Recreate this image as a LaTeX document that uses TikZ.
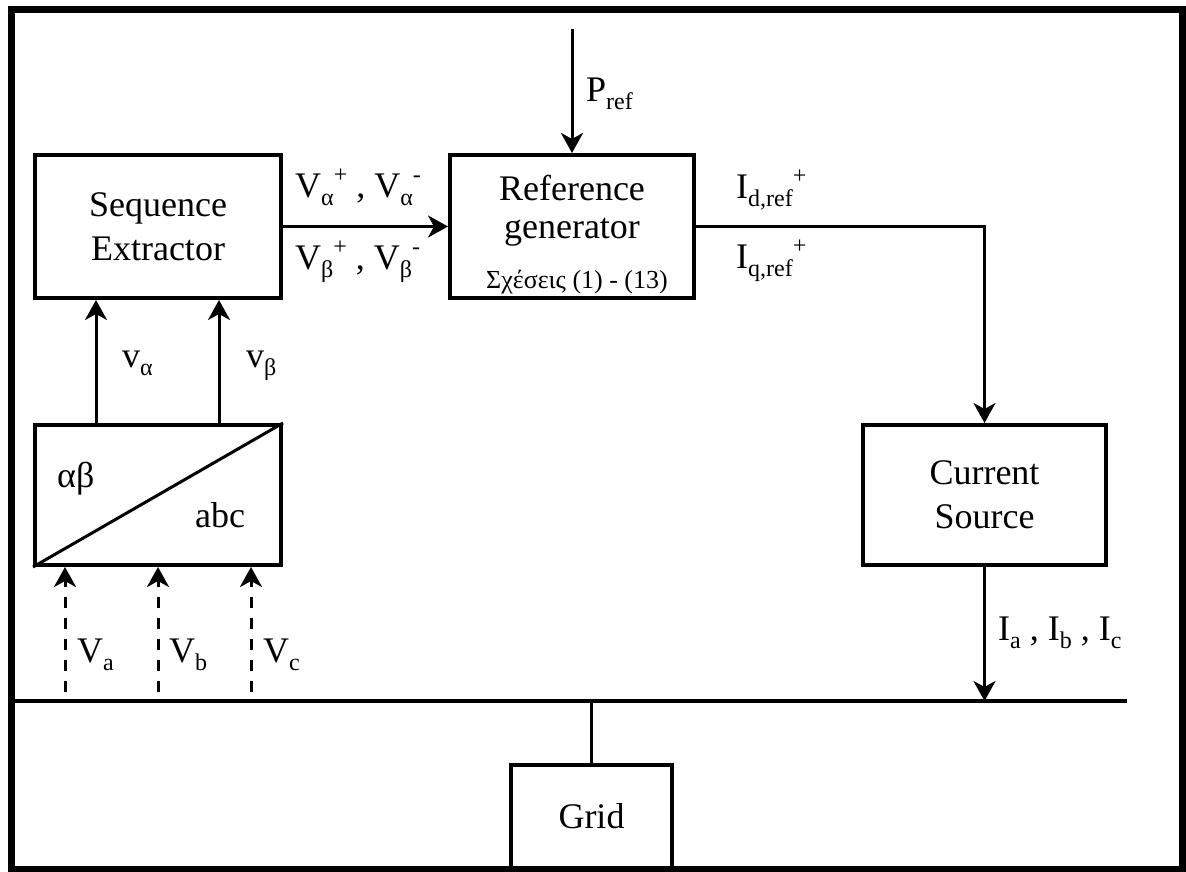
\documentclass[tikz,border=0pt]{standalone}
\usepackage{fontspec}
\setmainfont{Liberation Serif}
\usetikzlibrary{arrows.meta}
\newcommand\mysub[1]{\raisebox{-8pt}{\fontsize{24}{26}\selectfont #1}}
\newcommand\mysup[1]{\raisebox{15pt}{\fontsize{24}{26}\selectfont #1}}
\begin{document}
\begin{tikzpicture}[x=1pt,y=-1pt,
  box/.style={draw, line width=4pt, rectangle, inner sep=0pt, font=\fontsize{36}{44}\selectfont, align=center},
  lbl/.style={inner sep=0pt, font=\fontsize{36}{44}\selectfont, anchor=base west},
  arr/.style={line width=3pt, -{Stealth[length=20pt,width=22pt,inset=6pt]}},
  dasharr/.style={arr, dash pattern=on 11pt off 10pt},
  wire/.style={line width=3pt}
]
\useasboundingbox (0,0) rectangle (1186,872);
\draw[line width=7pt] (11,10) rectangle (1182,869);

% boxes
\node[box, minimum width=246pt, minimum height=143pt] (se) at (158,226.5) {Sequence\\Extractor};
\node[box, minimum width=244pt, minimum height=143pt] (rg) at (572,226.5) {};
\node[box, minimum width=246pt, minimum height=140pt] (ab) at (158,495) {};
\node[box, minimum width=243pt, minimum height=140pt] (cs) at (984.5,495) {Current\\Source};
\node[box, minimum width=161pt, minimum height=103pt] (grid) at (591.5,816.5) {Grid};

% coordinates
\coordinate (pin) at (572,29);
\coordinate (corner) at (984.5,226.5);
\coordinate (xa) at (96,0);
\coordinate (xb) at (219,0);
\coordinate (pa) at (65,692);
\coordinate (pb) at (158,692);
\coordinate (pc) at (251,692);
\coordinate (busL) at (15,701);
\coordinate (busR) at (1127,701);

% connectors
\draw[arr] (pin) -- (rg.north);
\draw[arr] (se.east) -- (rg.west);
\draw[arr] (rg.east) -- (corner) -- (cs.north);
\draw[arr] (xa |- ab.north) -- (xa |- se.south);
\draw[arr] (xb |- ab.north) -- (xb |- se.south);
\draw[dasharr] (pa) -- (pa |- ab.south);
\draw[dasharr] (pb) -- (pb |- ab.south);
\draw[dasharr] (pc) -- (pc |- ab.south);
\draw[line width=4pt] (busL) -- (busR);
\draw[arr] (cs.south) -- (cs.south |- busL);
\draw[wire] (grid.north |- busL) -- (grid.north);
\draw[wire] (ab.south west) -- (ab.north east);

% labels
\node[lbl] (pref) at (586,102) {P\mysub{ref}};
\node[lbl] (vap) at (295,197) {V\mysub{α}\mysup{+} , V\mysub{α}\mysup{-}};
\node[lbl] (vbp) at (295,269) {V\mysub{β}\mysup{+} , V\mysub{β}\mysup{-}};
\node[lbl] (idr) at (736,198) {I\mysub{d,ref}\mysup{+}};
\node[lbl] (iqr) at (736,268) {I\mysub{q,ref}\mysup{+}};
\node[lbl, anchor=base] (t1) at (572,200) {Reference};
\node[lbl, anchor=base] (t2) at (572,238) {generator};
\node[lbl, anchor=base, font=\fontsize{26}{30}\selectfont] (t3) at (577,288) {Σχέσεις (1) - (13)};
\node[lbl] (lva) at (122,367) {v\mysub{α}};
\node[lbl] (lvb) at (246,367) {v\mysub{β}};
\node[lbl] (lab1) at (57,487) {αβ};
\node[lbl] (lab2) at (195,527) {abc};
\node[lbl] (la) at (77,662) {V\mysub{a}};
\node[lbl] (lb) at (169,662) {V\mysub{b}};
\node[lbl] (lc) at (263,662) {V\mysub{c}};
\node[lbl] (iabc) at (998,640) {I\mysub{a} , I\mysub{b} , I\mysub{c}};
\end{tikzpicture}
\end{document}
